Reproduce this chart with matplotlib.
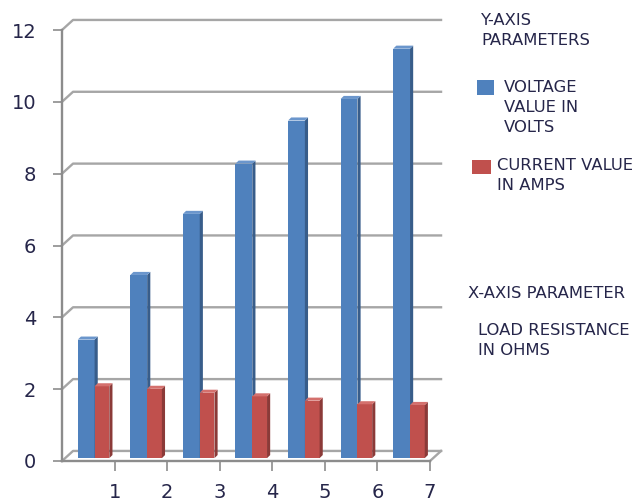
import matplotlib
matplotlib.use('Agg')
import matplotlib.pyplot as plt
from matplotlib.patches import Polygon, Rectangle

categories = ['1', '2', '3', '4', '5', '6', '7']
voltage = [3.3, 5.1, 6.8, 8.2, 9.4, 10.0, 11.4]
current = [2.0, 1.93, 1.82, 1.72, 1.6, 1.5, 1.48]
y_ticks = [0, 2, 4, 6, 8, 10, 12]

W, H = 644, 503
fig = plt.figure(figsize=(W / 100, H / 100), dpi=100)
plt.rcParams['font.family'] = ['DejaVu Sans']
txt_color = '#26264a'
grid_color = '#a6a6a6'
axis_color = '#8c8c8c'

# axes box in pixels: front axis x 62..430, y 461 (0) .. 30 (12)
ax = fig.add_axes([62 / W, (H - 461) / H, (430 - 62) / W, (461 - 30) / H])
ax.set_xlim(0, 7)
ax.set_ylim(0, 12)
for s in ax.spines.values():
    s.set_visible(False)

# back wall offset (pseudo 3D)
dx, dy = 0.21, 0.28
for y in y_ticks:
    ax.plot([0, dx, 7 + dx], [y, y + dy, y + dy], color=grid_color, lw=1.7,
            clip_on=False, zorder=1)
ax.plot([7, 7 + dx], [0, dy], color=grid_color, lw=1.7, clip_on=False, zorder=1)
ax.plot([0, 7], [0, 0], color=axis_color, lw=1.7, clip_on=False, zorder=5)
ax.plot([0, 0], [0, 12], color=axis_color, lw=1.7, clip_on=False, zorder=5)

# bars with side and top faces
base = 0.08
sx, sy = 0.06, 0.085
bw_blue, bw_red = 0.32, 0.28
series = [
    (voltage, 0.30, bw_blue, '#4f81bd', '#385d8a', '#6b96cc'),
    (current, 0.62, bw_red, '#c0504d', '#8b3a38', '#d4706d'),
]
for k, (vals, off, bw, c_front, c_side, c_top) in enumerate(series):
    for i, v in enumerate(vals):
        x0 = i + off
        x1 = x0 + bw
        top = base + v
        z = 2 + k
        ax.add_patch(Rectangle((x0, base), bw, v, facecolor=c_front,
                               edgecolor='none', zorder=z))
        ax.add_patch(Polygon([(x1, base), (x1 + sx, base + sy), (x1 + sx, top + sy), (x1, top)],
                             closed=True, facecolor=c_side, edgecolor='none', zorder=z))
        ax.add_patch(Polygon([(x0, top), (x0 + sx, top + sy), (x1 + sx, top + sy), (x1, top)],
                             closed=True, facecolor=c_top, edgecolor='none', zorder=z))

ax.set_yticks(y_ticks)
ax.set_yticklabels([str(t) for t in y_ticks])
ax.set_xticks(range(1, 8))
ax.set_xticklabels(categories)
ax.tick_params(axis='y', length=6.5, width=1.2, color=axis_color, pad=12,
               labelsize=14, labelcolor=txt_color)
ax.tick_params(axis='x', length=7, width=1.2, color=axis_color, pad=9,
               labelsize=14, labelcolor=txt_color)
for lab in ax.get_xticklabels():
    lab.set_x(lab.get_position()[0] - 0.05)


def ptext(x, y, s):
    fig.text(x / W, 1 - y / H, s, ha='left', va='top', fontsize=11.8,
             color=txt_color, linespacing=1.42)


def psquare(x0, y0, x1, y1, c):
    fig.patches.append(Rectangle((x0 / W, 1 - y1 / H), (x1 - x0) / W, (y1 - y0) / H,
                                 transform=fig.transFigure, facecolor=c, edgecolor='none'))


ptext(481, 13, 'Y-AXIS\nPARAMETERS')
psquare(477, 80, 494, 95, '#4f81bd')
ptext(504, 80, 'VOLTAGE\nVALUE IN\nVOLTS')
psquare(472, 160, 491, 174, '#c0504d')
ptext(497, 158, 'CURRENT VALUE\nIN AMPS')
ptext(468, 286, 'X-AXIS PARAMETER')
ptext(478, 323, 'LOAD RESISTANCE\nIN OHMS')

fig.savefig('out.png', dpi=100)
